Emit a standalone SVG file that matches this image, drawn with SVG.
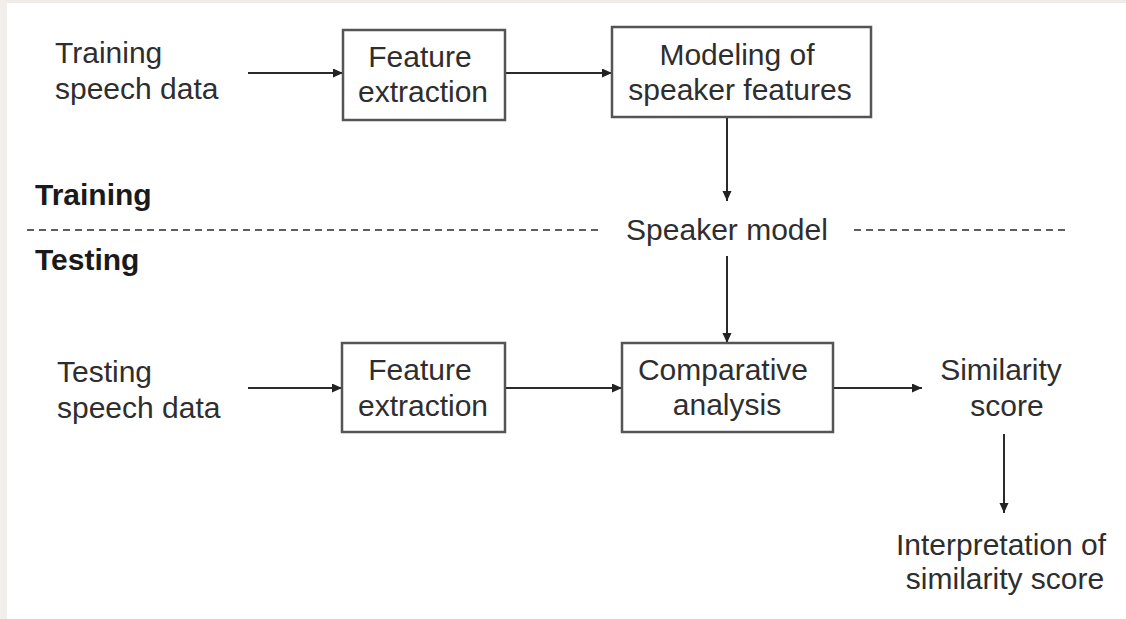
<svg xmlns="http://www.w3.org/2000/svg" width="1126" height="619" viewBox="0 0 1126 619">
  <defs>
    <marker id="arrow" markerUnits="userSpaceOnUse" markerWidth="11" markerHeight="10" refX="10" refY="4.5" orient="auto">
      <path d="M0,0 L10,4.5 L0,9 z" fill="#222"/>
    </marker>
    <style>
      .lbl { font-family: "Liberation Sans", Arial, sans-serif; font-size: 30px; fill: #2e2e2e; }
      .mid { text-anchor: middle; }
      .phase { font-family: "Liberation Sans", Arial, sans-serif; font-size: 30px; font-weight: bold; fill: #1a1a1a; }
      .box { fill: #ffffff; stroke: #555; stroke-width: 2.5; }
      .conn { stroke: #2a2a2a; stroke-width: 2; fill: none; marker-end: url(#arrow); }
      .divider { stroke: #5e5e5e; stroke-width: 2.2; stroke-dasharray: 7 5; fill: none; }
    </style>
  </defs>

  <!-- page -->
  <rect x="0" y="0" width="1126" height="619" fill="#ffffff"/>
  <rect x="0" y="0" width="1126" height="3" fill="#efecea"/>
  <rect x="0" y="0" width="7" height="619" fill="#f1eeec"/>

  <!-- phase divider -->
  <g id="divider">
    <line class="divider" x1="27" y1="230" x2="600" y2="230"/>
    <line class="divider" x1="854" y1="230" x2="1070" y2="230"/>
    <text class="phase" x="35" y="205">Training</text>
    <text class="phase" x="35" y="270">Testing</text>
  </g>

  <!-- connectors -->
  <g id="connectors">
    <line class="conn" x1="248" y1="73" x2="343" y2="73"/>
    <line class="conn" x1="505" y1="73" x2="612" y2="73"/>
    <line class="conn" x1="727" y1="117" x2="727" y2="201"/>
    <line class="conn" x1="727" y1="256" x2="727" y2="343"/>
    <line class="conn" x1="248" y1="388" x2="342" y2="388"/>
    <line class="conn" x1="505" y1="388" x2="622" y2="388"/>
    <line class="conn" x1="833" y1="388" x2="922" y2="388"/>
    <line class="conn" x1="1004" y1="434" x2="1004" y2="513"/>
  </g>

  <!-- training path -->
  <g id="training-data">
    <text class="lbl" x="55" y="63">Training</text>
    <text class="lbl" x="55" y="99">speech data</text>
  </g>

  <g id="feature-extraction-train">
    <rect class="box" x="343" y="30" width="162" height="90"/>
    <text class="lbl mid" x="420" y="67">Feature</text>
    <text class="lbl mid" x="423" y="102">extraction</text>
  </g>

  <g id="speaker-modeling">
    <rect class="box" x="612" y="27" width="259" height="90"/>
    <text class="lbl mid" x="737" y="65">Modeling of</text>
    <text class="lbl mid" x="740" y="100">speaker features</text>
  </g>

  <g id="speaker-model">
    <text class="lbl mid" x="727" y="240">Speaker model</text>
  </g>

  <!-- testing path -->
  <g id="testing-data">
    <text class="lbl" x="57" y="382">Testing</text>
    <text class="lbl" x="57" y="418">speech data</text>
  </g>

  <g id="feature-extraction-test">
    <rect class="box" x="342" y="343" width="163" height="89"/>
    <text class="lbl mid" x="420" y="380">Feature</text>
    <text class="lbl mid" x="423" y="416">extraction</text>
  </g>

  <g id="comparative-analysis">
    <rect class="box" x="622" y="343" width="211" height="89"/>
    <text class="lbl mid" x="723" y="380">Comparative</text>
    <text class="lbl mid" x="727" y="415">analysis</text>
  </g>

  <g id="similarity-score">
    <text class="lbl mid" x="1001" y="380">Similarity</text>
    <text class="lbl mid" x="1007" y="416">score</text>
  </g>

  <g id="interpretation">
    <text class="lbl mid" x="1001" y="555">Interpretation of</text>
    <text class="lbl mid" x="1005" y="589">similarity score</text>
  </g>
</svg>
